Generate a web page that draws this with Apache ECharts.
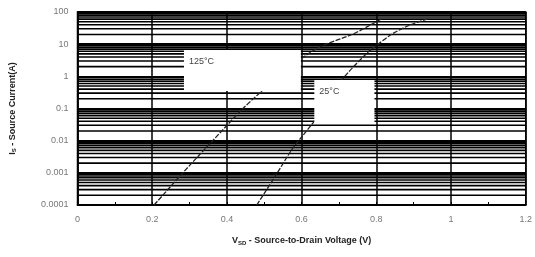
<!DOCTYPE html>
<html><head><meta charset="utf-8">
<script src="https://cdn.jsdelivr.net/npm/echarts@6/dist/echarts.min.js"></script>
<style>html,body{margin:0;padding:0;background:#fff}#c{width:535px;height:257px}</style>
</head><body><div id="c"></div>
<script>
// ---- data ----
var xTickLabels = ['0','0.2','0.4','0.6','0.8','1','1.2'];
var yTickLabels = ['0.0001','0.001','0.01','0.1','1','10','100'];
var v125 = [0.205, 0.282, 0.362, 0.443, 0.487, 0.535, 0.613, 0.660, 0.735, 0.785, 0.815];
var i125 = [0.0001, 0.001, 0.01, 0.1, 0.3, 1, 4.6, 9.4, 20, 40, 62];
var v25  = [0.480, 0.528, 0.573, 0.600, 0.632, 0.675, 0.714, 0.778, 0.800, 0.840, 0.889, 0.940];
var i25  = [0.0001, 0.00074, 0.0051, 0.013, 0.038, 0.2, 0.95, 5.7, 9, 20, 39, 62];
var boxLabels = ['125°C', '25°C'];
var boxX0 = [0.285, 0.634], boxX1 = [0.598, 0.795];
var boxYTop = [6.6, 0.77], boxYBot = [0.35, 0.035];
var decades = [0.0001, 0.001, 0.01, 0.1, 1, 10];
var mult = [2,3,4,5,6,7,8,9];

var minorVals = [];
decades.forEach(function(d){ mult.forEach(function(m){ minorVals.push([+(d*m).toPrecision(3)]); }); });
var boxData = boxLabels.map(function(t,i){ return [boxX0[i], boxYTop[i], boxX1[i], boxYBot[i], t]; });

function pairs(xs, ys){ return xs.map(function(x,i){ return [x, ys[i]]; }); }

var chart = echarts.init(document.getElementById('c'), null, {renderer:'canvas'});
chart.setOption({
  animation: false,
  grid: {left: 75, right: 8, top: 12, bottom: 52, show: true, borderColor: '#000', borderWidth: 1.5, backgroundColor: 'transparent'},
  xAxis: {
    type: 'value', min: 0, max: 1.2, interval: 0.2,
    axisLine: {show: true, lineStyle: {color: '#000', width: 1.5}},
    axisTick: {show: true, inside: true, length: 3, lineStyle: {color: '#000'}},
    minorTick: {show: true, splitNumber: 2, length: 3, lineStyle: {color: '#000', width: 1}},
    splitLine: {show: true, lineStyle: {color: '#000', width: 1.5}},
    axisLabel: {color: '#777', fontSize: 9, fontFamily: 'Liberation Sans', margin: 10,
      formatter: function(v){ return xTickLabels[Math.round(v/0.2)]; }},
    name: '{b|V}{s|SD}{b| - Source-to-Drain Voltage (V)}',
    nameLocation: 'middle', nameGap: 31,
    nameTextStyle: {rich: {
      b: {fontSize: 9, fontWeight: 'bold', color: '#222', fontFamily: 'Liberation Sans'},
      s: {fontSize: 6, fontWeight: 'bold', color: '#222', fontFamily: 'Liberation Sans', padding: [4,0,0,0]}
    }}
  },
  yAxis: {
    type: 'log', logBase: 10, min: 0.0001, max: 100,
    axisLine: {show: true, lineStyle: {color: '#000', width: 1.5}},
    axisTick: {show: false},
    splitLine: {show: true, lineStyle: {color: '#000', width: 2}},
    axisLabel: {color: '#777', fontSize: 9, fontFamily: 'Liberation Sans', margin: 9,
      formatter: function(v){ return yTickLabels[Math.round(Math.log10(v)) + 4]; }},
    name: '{b|I}{s|S}{b| - Source Current(A)}',
    nameLocation: 'middle', nameGap: 60, nameRotate: 90,
    nameTextStyle: {rich: {
      b: {fontSize: 9, fontWeight: 'bold', color: '#222', fontFamily: 'Liberation Sans'},
      s: {fontSize: 6, fontWeight: 'bold', color: '#222', fontFamily: 'Liberation Sans', padding: [4,0,0,0]}
    }}
  },
  series: [
    {type: 'custom', z: 1, silent: true, data: minorVals, encode: {y: 0},
     renderItem: function(params, api){
       var v = api.value(0);
       var p0 = api.coord([0, v]), p1 = api.coord([1.2, v]);
       return {type: 'line', shape: {x1: p0[0], y1: p0[1], x2: p1[0], y2: p1[1]},
               style: {stroke: '#000', lineWidth: 1.6}};
     }},
    {type: 'line', z: 2, name: boxLabels[0], data: pairs(v125, i125), showSymbol: false, symbol: 'none', smooth: 0.3,
     lineStyle: {color: '#222', width: 1.3, type: [5, 1.5]}},
    {type: 'line', z: 2, name: boxLabels[1], data: pairs(v25, i25), showSymbol: false, symbol: 'none', smooth: 0.3,
     lineStyle: {color: '#222', width: 1.3, type: [5, 1.5]}},
    {type: 'custom', z: 5, silent: true, data: boxData, encode: {x: [0, 2], y: [1, 3]},
     renderItem: function(params, api){
       var a = api.coord([api.value(0), api.value(1)]);
       var b = api.coord([api.value(2), api.value(3)]);
       var t = boxLabels[params.dataIndex];
       return {type: 'group', children: [
         {type: 'rect', shape: {x: a[0], y: a[1], width: b[0]-a[0], height: b[1]-a[1]}, style: {fill: '#fff'}},
         {type: 'text', x: a[0] + 5, y: a[1] + 7, style: {text: t, fill: '#444', fontSize: 9, fontFamily: 'Liberation Sans'}}
       ]};
     }}
  ]
});
</script></body></html>
